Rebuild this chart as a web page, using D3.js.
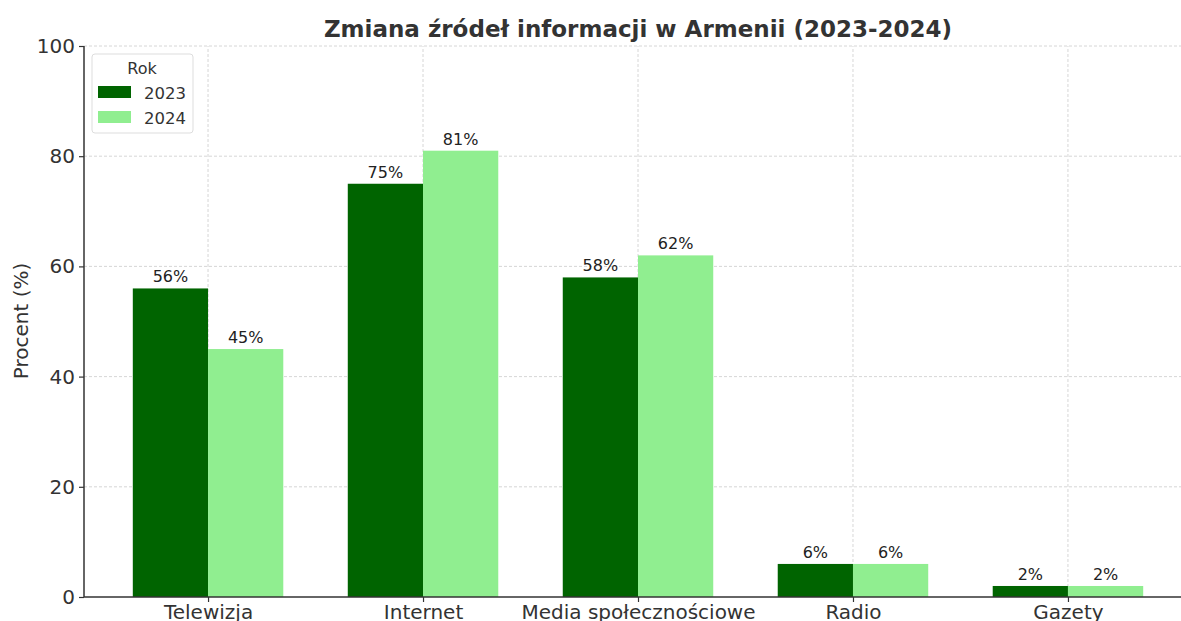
<!DOCTYPE html>
<html><head><meta charset="utf-8">
<script src="https://cdn.jsdelivr.net/npm/d3@7"></script>
<style>body{margin:0;background:#fff;} svg{display:block;font-family:"DejaVu Sans",sans-serif;}</style>
</head><body>
<svg id="c" width="1181" height="621"></svg>
<script>
const categories = ["Telewizja","Internet","Media społecznościowe","Radio","Gazety"];
const years = ["2023","2024"];
const values2023 = [56,75,58,6,2];
const values2024 = [45,81,62,6,2];
const yTicks = [0,20,40,60,80,100];
const colors = ["#006400","#90EE90"];
const series = [values2023, values2024];

const svg = d3.select("#c");
const textColor = "#333333";
const x = d3.scaleLinear().domain([-0.577, 4.577]).range([84, 1192]);
const y = d3.scaleLinear().domain([0,100]).range([597,46]);
const bw = x(0.35) - x(0);

// grid
const g = svg.append("g");
g.selectAll(".hg").data(yTicks.slice(1)).join("line")
  .attr("x1",84).attr("x2",1181).attr("y1",d=>y(d)).attr("y2",d=>y(d))
  .attr("stroke","#cccccc").attr("stroke-width",0.8).attr("stroke-dasharray","3,2");
g.selectAll(".vg").data(categories).join("line")
  .attr("x1",(d,i)=>x(i)).attr("x2",(d,i)=>x(i)).attr("y1",y(0)).attr("y2",y(100))
  .attr("stroke","#cccccc").attr("stroke-width",0.8).attr("stroke-dasharray","3,2");

// bars
series.forEach((vals,s)=>{
  svg.append("g").selectAll("rect").data(vals).join("rect")
    .attr("x",(d,i)=>x(i) + (s===0 ? -bw : 0))
    .attr("y",d=>y(d)).attr("width",bw).attr("height",d=>y(0)-y(d))
    .attr("fill",colors[s]);
  svg.append("g").selectAll("text").data(vals).join("text")
    .attr("x",(d,i)=>x(i) + (s===0 ? -bw/2 : bw/2))
    .attr("y",d=>y(d)-6).attr("text-anchor","middle")
    .attr("font-size",16).attr("fill","#222")
    .text(d=>d+"%");
});

// axes
const yAxis = svg.append("g").attr("transform","translate(84,0)")
  .call(d3.axisLeft(y).tickValues(yTicks).tickSize(5).tickPadding(4));
const xAxis = svg.append("g").attr("transform",`translate(0,${y(0)})`)
  .call(d3.axisBottom(x).tickValues(d3.range(categories.length)).tickFormat(i=>categories[i]).tickSize(5).tickPadding(3));
[yAxis,xAxis].forEach(a=>{
  a.selectAll("text").attr("font-size",20).attr("fill",textColor).attr("font-family","DejaVu Sans");
  a.selectAll("line").attr("stroke",textColor).attr("stroke-width",1.2);
});
yAxis.select(".domain").attr("stroke",textColor).attr("stroke-width",1.5).attr("d","M0,46V597");
xAxis.select(".domain").attr("stroke",textColor).attr("stroke-width",1.5).attr("d","M84,0H1181");

// labels
svg.append("text").attr("x",638).attr("y",37).attr("text-anchor","middle")
  .attr("font-size",23).attr("font-weight","bold").attr("fill",textColor)
  .text("Zmiana źródeł informacji w Armenii (2023-2024)");
svg.append("text").attr("transform","translate(28,321) rotate(-90)").attr("text-anchor","middle")
  .attr("font-size",20).attr("fill",textColor).text("Procent (%)");

// legend
const lg = svg.append("g");
lg.append("rect").attr("x",92).attr("y",54).attr("width",101).attr("height",79).attr("rx",3)
  .attr("fill","#fff").attr("fill-opacity",0.8).attr("stroke","#dddddd");
lg.append("text").attr("x",142).attr("y",74).attr("text-anchor","middle").attr("font-size",16).attr("fill",textColor).text("Rok");
years.forEach((yr,i)=>{
  lg.append("rect").attr("x",98).attr("y",86+i*25).attr("width",33).attr("height",12).attr("fill",colors[i]);
  lg.append("text").attr("x",144).attr("y",99+i*25).attr("font-size",16.5).attr("fill",textColor).text(yr);
});
</script>
</body></html>
